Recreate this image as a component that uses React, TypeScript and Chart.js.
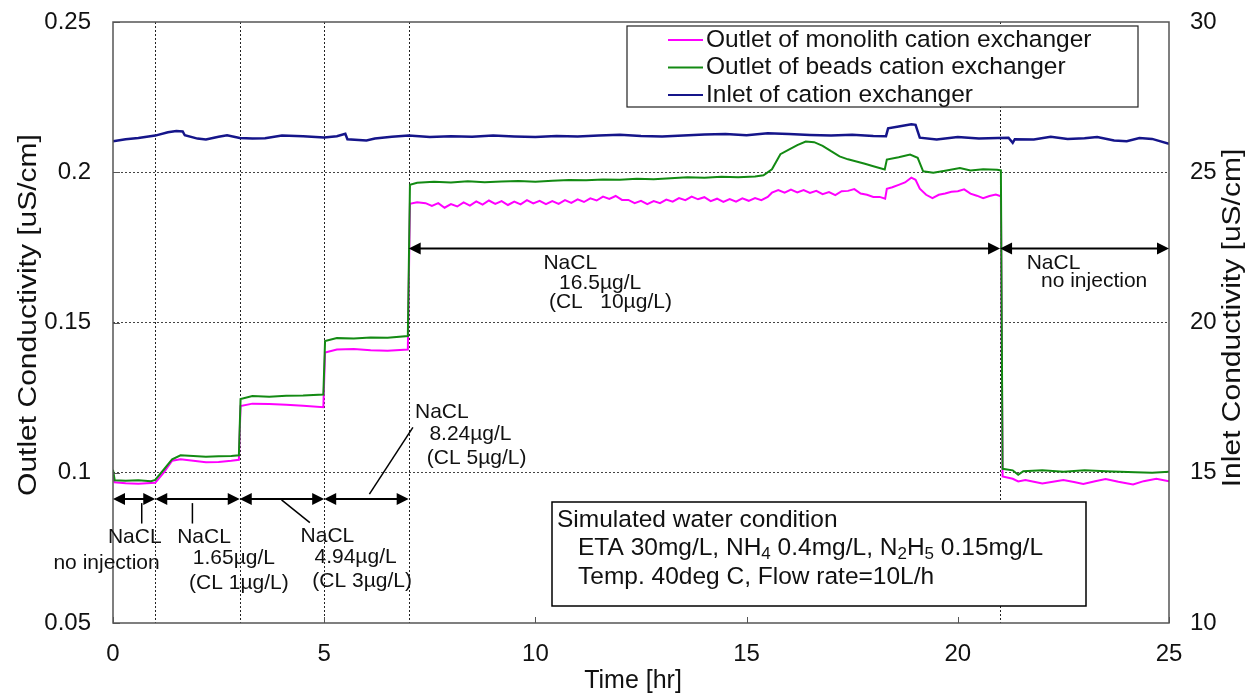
import React, { useEffect, useRef } from 'react';
import { Chart, registerables } from 'chart.js';

Chart.register(...registerables);

const FONT = '"Liberation Sans", Arial, Helvetica, sans-serif';
const TEXT = '#111111';

const seriesNames = [
  'Outlet of monolith cation exchanger',
  'Outlet of beads cation exchanger',
  'Inlet of cation exchanger',
];
const seriesColors = ['#ff00ff', '#138a13', '#15158a'];

// Outlet of monolith cation exchanger (left axis, uS/cm)
const monolithTime = [
  0, 0.04, 0.3, 0.6, 0.9, 1.0, 1.2, 1.4, 1.6, 1.9, 2.2, 2.5, 2.8, 2.98,
  3.02, 3.3, 3.7, 4.1, 4.5, 4.98, 5.02, 5.3, 5.7, 6.1, 6.5, 6.98, 7.03, 7.2,
  7.4, 7.55, 7.7, 7.85, 8.0, 8.15, 8.3, 8.45, 8.6, 8.75, 8.9, 9.05, 9.2, 9.35,
  9.5, 9.65, 9.8, 9.95, 10.1, 10.25, 10.4, 10.55, 10.7, 10.85, 11.0, 11.15,
  11.3, 11.45, 11.6, 11.75, 11.9, 12.05, 12.2, 12.35, 12.5, 12.65, 12.8, 12.95,
  13.1, 13.25, 13.4, 13.55, 13.7, 13.85, 14.0, 14.15, 14.3, 14.45, 14.6, 14.75,
  14.9, 15.05, 15.2, 15.35, 15.5, 15.6, 15.75, 15.9, 16.05, 16.2, 16.35, 16.5,
  16.65, 16.8, 16.95, 17.1, 17.25, 17.4, 17.55, 17.7, 17.85, 18.0, 18.15, 18.28,
  18.32, 18.45, 18.6, 18.75, 18.9, 19.0, 19.1, 19.25, 19.4, 19.55, 19.7, 19.85,
  20.0, 20.15, 20.3, 20.45, 20.6, 20.75, 20.9, 21.02,
  21.06, 21.3, 21.43, 21.6, 21.8, 22.0, 22.25, 22.5, 22.75, 22.97, 23.25, 23.5,
  23.8, 24.15, 24.4, 24.7, 25,
];
const monolithValue = [
  0.0985, 0.0968, 0.0965, 0.0963, 0.0966, 0.0967, 0.1, 0.104, 0.1045, 0.104, 0.1035, 0.1036, 0.104, 0.1043,
  0.1222, 0.123, 0.1229, 0.1226, 0.1223, 0.1218, 0.14, 0.141, 0.1412, 0.1408, 0.1406, 0.141, 0.1895, 0.19,
  0.1897, 0.1888, 0.1897, 0.1882, 0.1894, 0.1886, 0.1900, 0.1889, 0.1903, 0.1892, 0.1906, 0.1895, 0.1904, 0.1891,
  0.1902, 0.1893, 0.1907, 0.1896, 0.1905, 0.1894, 0.1904, 0.1895, 0.1907, 0.1898, 0.1910, 0.1901,
  0.1913, 0.1906, 0.1919, 0.1911, 0.1921, 0.1908, 0.1908, 0.1897, 0.1905, 0.1894, 0.1904, 0.1897,
  0.1909, 0.1902, 0.1914, 0.1907, 0.1919, 0.1910, 0.1917, 0.1904, 0.1912, 0.1901, 0.1911, 0.1902,
  0.1913, 0.1905, 0.1914, 0.1907, 0.1918, 0.1932, 0.1941, 0.1932, 0.1942, 0.1933, 0.1941, 0.1931,
  0.1938, 0.1927, 0.1934, 0.1924, 0.1937, 0.1938, 0.1944, 0.1929, 0.1925, 0.1918, 0.1918, 0.1912,
  0.1945, 0.195, 0.1958, 0.1966, 0.1982, 0.1975, 0.1945, 0.1925, 0.1914, 0.1925, 0.1929, 0.1935,
  0.1937, 0.1943, 0.1929, 0.1922, 0.1914, 0.1921, 0.1926, 0.192,
  0.0988, 0.098, 0.0971, 0.0976, 0.097, 0.0964, 0.097, 0.0976, 0.0969, 0.0963, 0.0972, 0.0979,
  0.097, 0.0961, 0.0972, 0.098, 0.0972,
];

// Outlet of beads cation exchanger (left axis, uS/cm)
const beadsTime = [
  0, 0.04, 0.3, 0.6, 0.9, 1.0, 1.2, 1.4, 1.6, 1.9, 2.2, 2.5, 2.8, 2.98,
  3.02, 3.3, 3.7, 4.1, 4.5, 4.98, 5.02, 5.3, 5.7, 6.1, 6.5, 6.98,
  7.03, 7.2, 7.6, 8.0, 8.4, 8.8, 9.2, 9.6, 10.0, 10.4, 10.8, 11.2, 11.6, 12.0,
  12.4, 12.8, 13.2, 13.6, 14.0, 14.4, 14.8, 15.2, 15.4, 15.6, 15.8, 16.0, 16.2,
  16.4, 16.6, 16.8, 17.0, 17.2, 17.4, 17.6, 17.8, 18.0, 18.27, 18.32, 18.6,
  18.87, 19.05, 19.18, 19.42, 19.7, 20.05, 20.3, 20.6, 20.93, 21.02,
  21.06, 21.3, 21.43, 21.55, 22.0, 22.5, 23.0, 23.5, 24.2, 24.6, 25,
];
const beadsValue = [
  0.101, 0.0975, 0.0973, 0.0975, 0.0972, 0.0976, 0.101, 0.1045, 0.1058, 0.1056, 0.1053, 0.1055, 0.1056, 0.1058,
  0.1245, 0.1255, 0.1253, 0.1256, 0.1257, 0.126, 0.1438, 0.1448, 0.1447, 0.145, 0.1449, 0.1455,
  0.1958, 0.1965, 0.1968, 0.1966, 0.197, 0.1967, 0.1969, 0.1971, 0.1968, 0.1972, 0.1974, 0.1973, 0.1976, 0.1975,
  0.1978, 0.1977, 0.198, 0.1983, 0.1982, 0.1985, 0.1983, 0.1986, 0.199, 0.201, 0.206, 0.2075, 0.209,
  0.2102, 0.21, 0.2088, 0.207, 0.2053, 0.2043, 0.2036, 0.2028, 0.202, 0.2009, 0.2042, 0.205,
  0.2059, 0.2048, 0.2003, 0.1998, 0.2005, 0.2014, 0.2006, 0.201, 0.2008, 0.2006,
  0.1013, 0.1008, 0.0993, 0.1005, 0.1008, 0.1003, 0.1008, 0.1005, 0.1002, 0.1, 0.1003,
];

// Inlet of cation exchanger (right axis, uS/cm)
const inletTime = [
  0, 0.3, 0.6, 1.0, 1.3, 1.5, 1.65, 1.7, 2.0, 2.2, 2.5, 2.7, 3.0, 3.3, 3.6, 4.0,
  4.5, 5.0, 5.3, 5.5, 5.55, 6.0, 6.2, 6.6, 7.0, 7.5, 8.0, 8.5, 9.0, 9.5, 10,
  10.5, 11, 11.5, 12, 12.5, 13, 13.5, 14, 14.5, 15, 15.5, 16, 16.5, 17, 17.5,
  18, 18.3, 18.35, 18.6, 18.9, 19.0, 19.1, 19.5, 20.0, 20.5, 20.95, 21.2, 21.3,
  21.35, 21.8, 22.2, 22.6, 23.0, 23.3, 23.7, 24.0, 24.3, 24.6, 25,
];
const inletValue = [
  26.03, 26.1, 26.14, 26.22, 26.33, 26.37, 26.36, 26.23, 26.12, 26.09, 26.18, 26.23, 26.14, 26.12, 26.13, 26.22,
  26.2, 26.16, 26.2, 26.28, 26.1, 26.06, 26.12, 26.18, 26.22, 26.17, 26.2, 26.18, 26.22, 26.19, 26.17,
  26.21, 26.19, 26.22, 26.25, 26.21, 26.19, 26.22, 26.26, 26.27, 26.23, 26.3, 26.27, 26.24, 26.22, 26.25,
  26.21, 26.2, 26.46, 26.52, 26.6, 26.58, 26.15, 26.09, 26.17, 26.12, 26.14, 26.15, 25.98,
  26.1, 26.09, 26.18, 26.11, 26.13, 26.17, 26.06, 26.03, 26.14, 26.11, 25.95,
];

const xRange = [0, 25];
const leftRange = [0.05, 0.25];
const rightRange = [10, 30];
const xStep = 5;
const leftStep = 0.05;
const rightStep = 5;

const axisTitles = ['Time [hr]', 'Outlet Conductivity [uS/cm]', 'Inlet Conductivity [uS/cm]'];

// injection phase boundaries (hr)
const phaseBoundaries = [1, 3, 5, 7, 21];
// double arrows: [start hr, end hr, level on left axis]
const arrowSpans = [
  [0, 1, 0.0913],
  [1, 3, 0.0913],
  [3, 5, 0.0913],
  [5, 7, 0.0913],
  [7, 21, 0.1746],
  [21, 25, 0.1746],
];
// leader lines: [t1, v1, t2, v2]
const leaderLines = [
  [0.68, 0.0899, 0.68, 0.0831],
  [1.88, 0.0899, 1.88, 0.0831],
  [3.99, 0.091, 4.66, 0.0834],
  [6.07, 0.0929, 7.1, 0.1151],
];
// annotation labels: [text, t (left edge), v (middle)]
const annotationLabels: [string, number, number][] = [
  ['NaCL', -0.12, 0.0787],
  ['no injection', -1.41, 0.0699],
  ['NaCL', 1.52, 0.0787],
  ['1.65µg/L', 1.89, 0.0716],
  ['(CL 1µg/L)', 1.8, 0.0634],
  ['NaCL', 4.44, 0.079],
  ['4.94µg/L', 4.77, 0.0719],
  ['(CL 3µg/L)', 4.72, 0.0638],
  ['NaCL', 7.15, 0.12],
  ['8.24µg/L', 7.49, 0.1129],
  ['(CL 5µg/L)', 7.43, 0.1049],
  ['NaCL', 10.19, 0.1698],
  ['16.5µg/L', 10.56, 0.1631],
  ['(CL   10µg/L)', 10.32, 0.1566],
  ['NaCL', 21.63, 0.1698],
  ['no injection', 21.97, 0.1637],
];
// condition box lines: segments [text, isSubscript]
const conditionTitle = 'Simulated water condition';
const conditionLine1: [string, boolean][] = [
  ['ETA 30mg/L, NH', false], ['4', true], [' 0.4mg/L, N', false], ['2', true],
  ['H', false], ['5', true], [' 0.15mg/L', false],
];
const conditionLine2: [string, boolean][] = [['Temp. 40deg C, Flow rate=10L/h', false]];

const overlayPlugin = {
  id: 'overlay',
  beforeDatasetsDraw(chart: any) {
    const { ctx, chartArea: a, scales } = chart;
    const x = scales.x;
    ctx.save();
    ctx.strokeStyle = '#222';
    ctx.lineWidth = 1;
    ctx.setLineDash([2, 2]);
    for (const b of phaseBoundaries) {
      const px = Math.round(x.getPixelForValue(b)) + 0.5;
      ctx.beginPath();
      ctx.moveTo(px, a.top);
      ctx.lineTo(px, a.bottom);
      ctx.stroke();
    }
    ctx.restore();
  },
  afterDatasetsDraw(chart: any) {
    const { ctx, chartArea: a, scales } = chart;
    const x = scales.x;
    const y = scales.y;
    const yr = scales.y1;
    ctx.save();
    // plot frame
    ctx.strokeStyle = '#555';
    ctx.lineWidth = 1.5;
    ctx.strokeRect(a.left, a.top, a.right - a.left, a.bottom - a.top);
    // inward ticks
    ctx.lineWidth = 1;
    ctx.beginPath();
    for (const t of x.ticks) {
      const px = Math.round(x.getPixelForValue(t.value)) + 0.5;
      ctx.moveTo(px, a.bottom);
      ctx.lineTo(px, a.bottom - 6);
    }
    for (const t of y.ticks) {
      const py = Math.round(y.getPixelForValue(t.value)) + 0.5;
      ctx.moveTo(a.left, py);
      ctx.lineTo(a.left + 7, py);
    }
    ctx.stroke();

    // arrows
    ctx.strokeStyle = '#000';
    ctx.fillStyle = '#000';
    ctx.lineWidth = 2;
    for (const [t1, t2, v] of arrowSpans) {
      const x1 = x.getPixelForValue(t1);
      const x2 = x.getPixelForValue(t2);
      const py = y.getPixelForValue(v);
      ctx.beginPath();
      ctx.moveTo(x1 + 4, py);
      ctx.lineTo(x2 - 4, py);
      ctx.stroke();
      ctx.beginPath();
      ctx.moveTo(x1, py);
      ctx.lineTo(x1 + 12, py - 6);
      ctx.lineTo(x1 + 12, py + 6);
      ctx.closePath();
      ctx.fill();
      ctx.beginPath();
      ctx.moveTo(x2, py);
      ctx.lineTo(x2 - 12, py - 6);
      ctx.lineTo(x2 - 12, py + 6);
      ctx.closePath();
      ctx.fill();
    }
    ctx.lineWidth = 1.5;
    for (const [t1, v1, t2, v2] of leaderLines) {
      ctx.beginPath();
      ctx.moveTo(x.getPixelForValue(t1), y.getPixelForValue(v1));
      ctx.lineTo(x.getPixelForValue(t2), y.getPixelForValue(v2));
      ctx.stroke();
    }
    // annotation labels
    ctx.fillStyle = TEXT;
    ctx.font = `21px ${FONT}`;
    ctx.textAlign = 'left';
    ctx.textBaseline = 'middle';
    for (const [txt, t, v] of annotationLabels) {
      ctx.fillText(txt, x.getPixelForValue(t), y.getPixelForValue(v));
    }

    // condition box
    const bx = a.left + 439;
    const by = a.top + 480;
    const bw = 534;
    const bh = 104;
    ctx.fillStyle = '#fff';
    ctx.fillRect(bx, by, bw, bh);
    ctx.strokeStyle = '#000';
    ctx.lineWidth = 1.5;
    ctx.strokeRect(bx, by, bw, bh);
    ctx.fillStyle = TEXT;
    ctx.font = `24.5px ${FONT}`;
    ctx.fillText(conditionTitle, bx + 5, by + 18);
    const drawSegs = (segs: [string, boolean][], sx: number, sy: number) => {
      let cx = sx;
      for (const [s, sub] of segs) {
        ctx.font = sub ? `17px ${FONT}` : `24.5px ${FONT}`;
        ctx.fillText(s, cx, sub ? sy + 6 : sy);
        cx += ctx.measureText(s).width;
      }
    };
    drawSegs(conditionLine1, bx + 26, by + 46);
    drawSegs(conditionLine2, bx + 26, by + 75);

    // legend
    const lx = a.left + 514;
    const ly = a.top + 4;
    ctx.fillStyle = '#fff';
    ctx.fillRect(lx, ly, 511, 81);
    ctx.strokeStyle = '#222';
    ctx.lineWidth = 1.2;
    ctx.strokeRect(lx, ly, 511, 81);
    ctx.font = `24.5px ${FONT}`;
    seriesNames.forEach((name, i) => {
      const rowY = ly + 14 + i * 27.5;
      ctx.strokeStyle = seriesColors[i];
      ctx.lineWidth = 2;
      ctx.beginPath();
      ctx.moveTo(lx + 41, rowY);
      ctx.lineTo(lx + 76, rowY);
      ctx.stroke();
      ctx.fillStyle = TEXT;
      ctx.fillText(name, lx + 79, rowY);
    });

    // axis titles
    ctx.fillStyle = TEXT;
    ctx.textAlign = 'center';
    ctx.font = `25px ${FONT}`;
    ctx.fillText(axisTitles[0], a.left + 520, a.bottom + 58);
    const drawVertical = (txt: string, cx: number, cy: number) => {
      ctx.save();
      ctx.translate(cx, cy);
      ctx.rotate(-Math.PI / 2);
      ctx.scale(1.2, 1);
      ctx.fillText(txt, 0, 0);
      ctx.restore();
    };
    drawVertical(axisTitles[1], a.left - 84, a.top + 293);
    drawVertical(axisTitles[2], yr.right - 19, a.top + 296);
    ctx.restore();
  },
};

const fmt = (v: number) => String(Number(v.toFixed(2)));

export default function App() {
  const canvasRef = useRef<HTMLCanvasElement | null>(null);

  useEffect(() => {
    document.body.style.margin = '0';
    const canvas = canvasRef.current;
    if (!canvas) return;
    const toPoints = (ts: number[], vs: number[]) => ts.map((t, i) => ({ x: t, y: vs[i] }));
    const tickFont = { family: FONT, size: 24 };
    const chart = new Chart(canvas, {
      type: 'line',
      data: {
        datasets: [
          {
            label: seriesNames[2],
            data: toPoints(inletTime, inletValue),
            borderColor: seriesColors[2],
            borderWidth: 2.5,
            yAxisID: 'y1',
          },
          {
            label: seriesNames[1],
            data: toPoints(beadsTime, beadsValue),
            borderColor: seriesColors[1],
            borderWidth: 2,
            yAxisID: 'y',
          },
          {
            label: seriesNames[0],
            data: toPoints(monolithTime, monolithValue),
            borderColor: seriesColors[0],
            borderWidth: 2,
            yAxisID: 'y',
          },
        ],
      },
      options: {
        animation: false,
        responsive: false,
        maintainAspectRatio: false,
        layout: { padding: { top: 22, left: 0, right: 0, bottom: 0 } },
        elements: { point: { radius: 0 }, line: { tension: 0 } },
        plugins: { legend: { display: false }, tooltip: { enabled: false } },
        scales: {
          x: {
            type: 'linear',
            min: xRange[0],
            max: xRange[1],
            grid: { display: false },
            border: { display: false },
            ticks: { stepSize: xStep, font: tickFont, color: TEXT, padding: 9, maxRotation: 0, callback: (v: any) => fmt(Number(v)) },
            afterFit: (s: any) => { s.height = 71; s.paddingLeft = 0; s.paddingRight = 0; },
          },
          y: {
            type: 'linear',
            position: 'left',
            min: leftRange[0],
            max: leftRange[1],
            grid: {
              drawTicks: false,
              lineWidth: 1,
              color: (c: any) =>
                c.tick && (Math.abs(c.tick.value - leftRange[0]) < 1e-6 || Math.abs(c.tick.value - leftRange[1]) < 1e-6)
                  ? 'rgba(0,0,0,0)'
                  : '#444',
            },
            border: { display: false, dash: [2, 2] },
            ticks: { stepSize: leftStep, font: tickFont, color: TEXT, padding: 22, callback: (v: any) => fmt(Number(v)) },
            afterFit: (s: any) => { s.width = 113; s.paddingTop = 0; s.paddingBottom = 0; },
          },
          y1: {
            type: 'linear',
            position: 'right',
            min: rightRange[0],
            max: rightRange[1],
            grid: { display: false, drawTicks: false },
            border: { display: false },
            ticks: { stepSize: rightStep, font: tickFont, color: TEXT, padding: 21, callback: (v: any) => fmt(Number(v)) },
            afterFit: (s: any) => { s.width = 83; s.paddingTop = 0; s.paddingBottom = 0; },
          },
        },
      } as any,
      plugins: [overlayPlugin],
    });
    return () => chart.destroy();
  }, []);

  return (
    <div style={{ width: 1252, height: 694, background: '#fff' }}>
      <canvas ref={canvasRef} width={1252} height={694} style={{ display: 'block' }} />
    </div>
  );
}
